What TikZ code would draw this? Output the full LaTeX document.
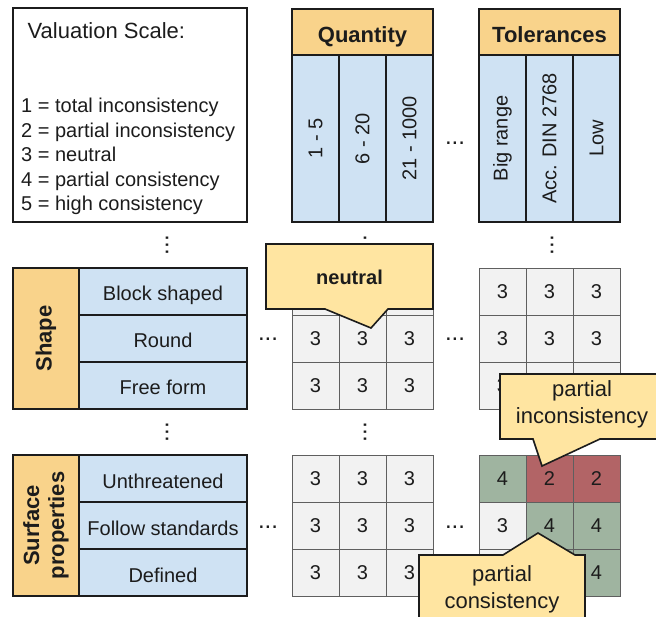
\documentclass[tikz,border=0pt]{standalone}
\usepackage{fontspec}
\setmainfont{Liberation Sans}
\usetikzlibrary{positioning, calc}

\definecolor{ink}{RGB}{28,28,28}
\definecolor{hdorange}{RGB}{249,211,139}
\definecolor{catblue}{RGB}{207,226,243}
\definecolor{cellgray}{RGB}{242,242,242}
\definecolor{gridline}{RGB}{95,95,95}
\definecolor{notefill}{RGB}{255,229,161}
\definecolor{goodgreen}{RGB}{159,180,160}
\definecolor{badred}{RGB}{178,100,102}

\begin{document}
\begin{tikzpicture}[
  x=1pt, y=-1pt,
  every node/.style={inner sep=0pt, text=ink, font=\fontsize{20}{24}\selectfont},
  hdbox/.style={rectangle, draw=ink, line width=1.4pt, fill=hdorange,
    font=\fontsize{22}{25}\selectfont\bfseries},
  catbox/.style={rectangle, draw=ink, line width=1.4pt, fill=catblue,
    minimum width=168pt, minimum height=47pt, text height=19pt, text depth=0pt},
  colbox/.style={rectangle, draw=ink, line width=1.4pt, fill=catblue, rotate=90,
    minimum width=167pt, minimum height=47pt},
  cell/.style={rectangle, draw=gridline, line width=0.9pt, fill=cellgray,
    minimum width=47pt, minimum height=47pt},
  ellip/.style={font=\fontsize{24}{24}\selectfont},
  callout/.style={draw=ink, line width=1.6pt, fill=notefill},
  notetext/.style={align=center, font=\fontsize{22}{26.5}\selectfont}
]
\useasboundingbox (0,0) rectangle (656,617);
\clip (0,0) rectangle (656,617);

% valuation scale
\node[draw=ink, line width=1.4pt, minimum width=234pt, minimum height=214pt] (valbox) at (130,115) {};
\node[anchor=base west, font=\fontsize{22}{26}\selectfont] (valtitle) at (27.5,39) {Valuation Scale:};
\foreach \txt [count=\i] in {1 = total inconsistency, 2 = partial inconsistency, 3 = neutral,
    4 = partial consistency, 5 = high consistency}
  \node[anchor=base west] (val\i) at (21,88.6+24.4*\i) {\txt};

% column headers
\node[hdbox, minimum width=141pt, minimum height=46pt, text height=22pt, text depth=0pt] (qtyhd) at (362.5,32) {Quantity};
\foreach \txt [count=\i] in {1 - 5, 6 - 20, 21 - 1000}
  \node[colbox] (qty\i) at (268.5+47*\i,138.5) {\txt};
\node[hdbox, minimum width=141pt, minimum height=46pt, text height=22pt, text depth=0pt] (tolhd) at (549.5,32) {Tolerances};
\foreach \txt [count=\i] in {Big range, Acc. DIN 2768, Low}
  \node[colbox] (tol\i) at (455.5+47*\i,138.5) {\txt};

% row headers
\node[hdbox, rotate=90, minimum width=141pt, minimum height=66pt] (shapehd) at (46,338.5) {Shape};
\foreach \txt [count=\i] in {Block shaped, Round, Free form}
  \node[catbox] (shape\i) at (163,244.5+47*\i) {\txt};
\node[hdbox, rotate=90, minimum width=141pt, minimum height=66pt, align=center] (surfhd) at (46,525.5) {Surface\\properties};
\foreach \txt [count=\i] in {Unthreatened, Follow standards, Defined}
  \node[catbox] (surf\i) at (163,431.5+47*\i) {\txt};

% value grids
\foreach \r in {1,2,3}
  \foreach \c in {1,2,3} {
    \node[cell] (shpqty-\r-\c) at (268.5+47*\c,244.5+47*\r) {3};
    \node[cell] (shptol-\r-\c) at (455.5+47*\c,244.5+47*\r) {3};
    \node[cell] (srfqty-\r-\c) at (268.5+47*\c,431.5+47*\r) {3};
  }
\foreach \r/\c/\v/\fillc in {1/1/4/goodgreen, 1/2/2/badred, 1/3/2/badred,
    2/1/3/cellgray, 2/2/4/goodgreen, 2/3/4/goodgreen,
    3/1/3/cellgray, 3/2/4/goodgreen, 3/3/4/goodgreen}
  \node[cell, fill=\fillc] (srftol-\r-\c) at (455.5+47*\c,431.5+47*\r) {\v};

% ellipses
\node[ellip] (hdotsA) at (455,143) {...};
\node[ellip] (hdotsB) at (268,339) {...};
\node[ellip] (hdotsC) at (455,339) {...};
\node[ellip] (hdotsD) at (268,527) {...};
\node[ellip] (hdotsE) at (455,527) {...};
\node[ellip, rotate=90] (vdotsA) at (167,245) {...};
\node[ellip, rotate=90] (vdotsB) at (365,245) {...};
\node[ellip, rotate=90] (vdotsC) at (552,245) {...};
\node[ellip, rotate=90] (vdotsD) at (167,432) {...};
\node[ellip, rotate=90] (vdotsE) at (365,432) {...};

% callouts
\path (266,244) coordinate (neunw) (433,309) coordinate (neuse) (371,328) coordinate (neutip);
\filldraw[callout] (neunw) -| (neuse) -- (388,309) -- (neutip) -- (325,309) -| cycle;
\node[font=\fontsize{20}{24}\selectfont\bfseries] (neutral) at (349.5,277.5) {neutral};

\path (500,374) coordinate (pinw) (664,439) coordinate (pise) (542,466) coordinate (pitip);
\filldraw[callout] (pinw) -| (pise) -- (600,439) -- (pitip) -- (533,439) -| cycle;
\node[notetext] (partinc) at (582,404.5) {partial\\inconsistency};

\path (419,555) coordinate (pcnw) (585,630) coordinate (pcse) (538,533) coordinate (pctip);
\filldraw[callout] (pcnw) -- (503,555) -- (pctip) -- (575,555) -| (pcse) -| cycle;
\node[notetext] (partcon) at (502,589.5) {partial\\consistency};
\end{tikzpicture}
\end{document}
